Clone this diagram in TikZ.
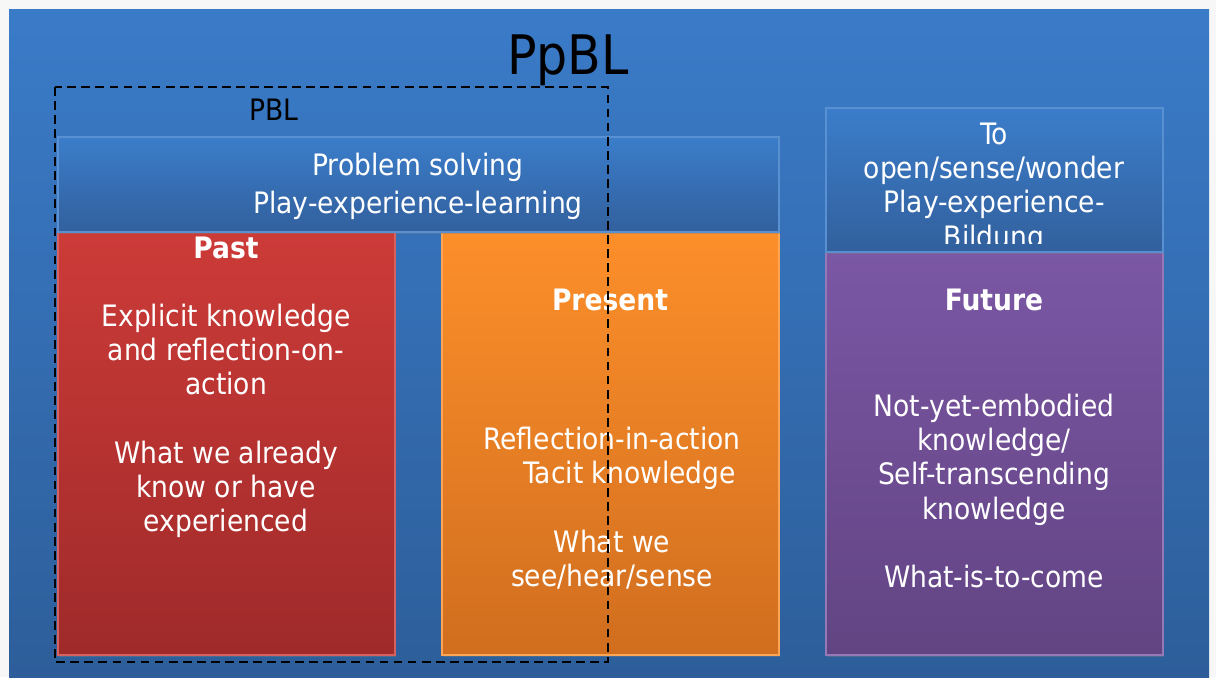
\documentclass[tikz,border=0pt]{standalone}
\usepackage{fontspec}
\setmainfont{DejaVu Sans Condensed}
\usetikzlibrary{shadows}
\definecolor{fondoArriba}{HTML}{3A7BC8}
\definecolor{fondoAbajo}{HTML}{2D5E9A}
\definecolor{bandaArriba}{HTML}{3B7DCA}
\definecolor{bandaAbajo}{HTML}{32609D}
\definecolor{rojoArriba}{HTML}{CC3B38}
\definecolor{rojoAbajo}{HTML}{9F2A2A}
\definecolor{naranjaArriba}{HTML}{FD8F2A}
\definecolor{naranjaAbajo}{HTML}{D06E1F}
\definecolor{moradoArriba}{HTML}{7B57A4}
\definecolor{moradoAbajo}{HTML}{624483}

\begin{document}
\begin{tikzpicture}[
    x=0.02cm, y=-0.02cm,
    sombra/.style={drop shadow={opacity=0.35, shadow xshift=0.6pt, shadow yshift=-1.2pt}},
    caja/.style={sombra, line width=0.6pt},
    texto/.style={text=white, align=center, font=\fontsize{16.8}{19.5}\selectfont},
    titulo/.style={text=white, font=\bfseries\fontsize{16.8}{19.5}\selectfont}
]
    \useasboundingbox (0,0) rectangle (1216,677);
    \fill[white!94!gray] (0,0) rectangle (1216,677);
    \shade[top color=fondoArriba, bottom color=fondoAbajo] (9,9) rectangle (1209,677);

    % --- TITULO ---
    \node[font=\fontsize{31}{36}\selectfont] (ppbl) at (568,60) {PpBL};

    % --- PASADO ---
    \shade[caja, draw=rojoArriba!80!white, top color=rojoArriba, bottom color=rojoAbajo] (58,232) rectangle (395,655);
    \node[titulo] (past) at (226,248) {Past};
    \node[texto] (pastTxt) at (226,421) {Explicit knowledge\\and reflection-on-\\action\\[19.5pt]What we already\\know or have\\experienced};

    % --- PRESENTE ---
    \shade[caja, draw=naranjaArriba!80!white, top color=naranjaArriba, bottom color=naranjaAbajo] (442,232) rectangle (779,655);
    \node[titulo] (present) at (610,300) {Present};
    \node[texto] (presentTxt) at (612,508) {Reflection-in-action\\\hspace*{1.2em}Tacit knowledge\\[19.5pt]What we\\see/hear/sense};

    % --- FUTURO ---
    \shade[caja, draw=moradoArriba!80!white, top color=moradoArriba, bottom color=moradoAbajo] (826,252) rectangle (1163,655);
    \node[titulo] (future) at (994,300) {Future};
    \node[texto] (futureTxt) at (994,491) {Not-yet-embodied\\knowledge/\\Self-transcending\\knowledge\\[19.5pt]What-is-to-come};

    % --- BANDA PBL ---
    \shade[caja, draw=bandaArriba!85!white, top color=bandaArriba, bottom color=bandaAbajo] (58,137) rectangle (779,232);
    \node[texto, font=\fontsize{16.8}{21.6}\selectfont] (pblTxt) at (418,186) {Problem solving\\Play-experience-learning};

    % --- BANDA FUTURO ---
    \shade[caja, draw=bandaArriba!85!white, top color=bandaArriba, bottom color=bandaAbajo] (826,108) rectangle (1163,252);
    \begin{scope}
        \clip (826,108) rectangle (1163,243);
        \node[texto] (bildungTxt) at (994,188) {To\\open/sense/wonder\\Play-experience-\\Bildung};
    \end{scope}

    % --- MARCO PBL ---
    \draw[dashed, thick, dash pattern=on 5pt off 3pt] (55,87) rectangle (608,662);
    \node[font=\fontsize{16.8}{19.5}\selectfont] (pbl) at (274,110) {PBL};

\end{tikzpicture}
\end{document}
